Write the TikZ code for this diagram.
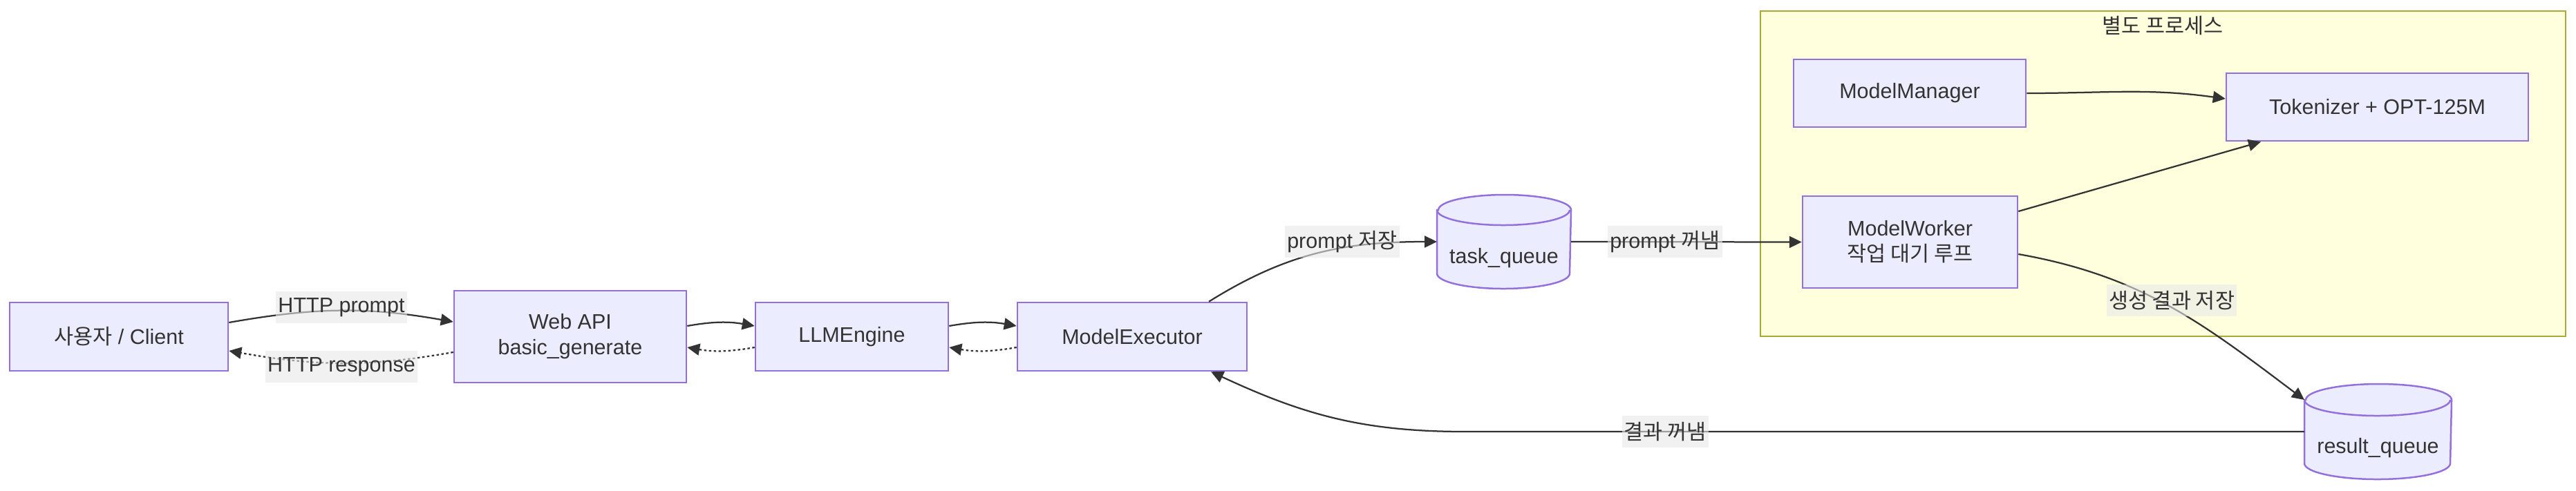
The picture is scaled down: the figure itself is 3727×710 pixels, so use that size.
\documentclass[tikz,border=0pt]{standalone}
\usepackage{fontspec}
\setmainfont{Liberation Sans}
\newfontfamily\krfont{Noto Sans CJK KR}
\usepackage{tikz}
\usetikzlibrary{arrows.meta,backgrounds}
\definecolor{nodefill}{HTML}{ECECFF}
\definecolor{nodeline}{HTML}{9370DB}
\definecolor{clusterfill}{HTML}{FFFFDE}
\definecolor{clusterline}{HTML}{AAAA33}
\definecolor{edgeline}{HTML}{333333}
\definecolor{labelbg}{HTML}{E8E8E8}

\begin{document}
\begin{tikzpicture}[x=0.2pt,y=-0.2pt,
    font=\fontsize{6.1pt}{7.4pt}\selectfont,text=edgeline,
    box/.style={draw=nodeline,fill=nodefill,line width=0.5pt,align=center,inner sep=0pt},
    queue/.style={inner sep=0pt,text height=9.4pt,text depth=1.4pt},
    cyl/.style={draw=nodeline,fill=nodefill,line width=0.5pt},
    cluster/.style={draw=clusterline,fill=clusterfill,line width=0.5pt,inner sep=0pt},
    flow/.style={draw=edgeline,line width=0.45pt,-{Triangle[length=3.6pt,width=3.4pt]}},
    back/.style={flow,dash pattern=on 0.7pt off 0.7pt},
    elabel/.style={fill=labelbg,fill opacity=0.6,text opacity=1,inner xsep=0.6pt,inner ysep=0pt,minimum height=9.2pt}]
    \useasboundingbox (0,0) rectangle (3727,710);
    \node[cluster,minimum width=233pt,minimum height=94.2pt] at (3129.5,251.5) (sp) {};
    \node at (3129,37) (spt) {\krfont 별도 프로세스};
    \node[box,minimum width=63.2pt,minimum height=19.8pt] at (172,487.5) (cl) {{\krfont 사용자} / Client};
    \node[box,minimum width=67.2pt,minimum height=26.6pt] at (825,487.5) (api) {Web API\\basic\_generate};
    \node[box,minimum width=55.8pt,minimum height=19.8pt] at (1232.5,487.5) (eng) {LLMEngine};
    \node[box,minimum width=66.4pt,minimum height=19.8pt] at (1638,487.5) (ex) {ModelExecutor};
    \node[queue,minimum width=38.4pt,minimum height=22.4pt] at (2176,361) (tq) {task\_queue};
    \node[box,minimum width=67.2pt,minimum height=19.6pt] at (2763,135) (mm) {ModelManager};
    \node[box,minimum width=87.4pt,minimum height=19.6pt] at (3439.5,155) (tok) {Tokenizer + OPT-125M};
    \node[box,minimum width=62.2pt,minimum height=26.6pt] at (2763.5,350.5) (mw) {ModelWorker\\{\krfont 작업 대기 루프}};
    \node[queue,minimum width=42.2pt,minimum height=22.6pt] at (3440.5,636.5) (rq) {result\_queue};
    \begin{scope}[on background layer]
    \filldraw[cyl] (tq.north west) -- ([yshift=4.4pt]tq.south west) arc[start angle=180,end angle=360,x radius=19.2pt,y radius=4.4pt] -- (tq.north east) arc[start angle=0,end angle=180,x radius=19.2pt,y radius=4.4pt] -- cycle;
    \draw[cyl,fill=none] (tq.north west) arc[start angle=180,end angle=360,x radius=19.2pt,y radius=4.4pt];
    \filldraw[cyl] (rq.north west) -- ([yshift=4.6pt]rq.south west) arc[start angle=180,end angle=360,x radius=21.1pt,y radius=4.6pt] -- (rq.north east) arc[start angle=0,end angle=180,x radius=21.1pt,y radius=4.6pt] -- cycle;
    \draw[cyl,fill=none] (rq.north west) arc[start angle=180,end angle=360,x radius=21.1pt,y radius=4.6pt];
    \end{scope}
    \draw[flow] ([yshift=4.1pt]cl.east) to[out=10,in=170] ([yshift=4.3pt]api.west);
    \draw[back] ([yshift=-4.5pt]api.west) to[out=190,in=-10] ([yshift=-4.1pt]cl.east);
    \draw[flow] ([yshift=3.1pt]api.east) to[out=10,in=170] ([yshift=3.1pt]eng.west);
    \draw[back] ([yshift=-3.1pt]eng.west) to[out=190,in=-10] ([yshift=-3.1pt]api.east);
    \draw[flow] ([yshift=3.1pt]eng.east) to[out=10,in=170] ([yshift=3.1pt]ex.west);
    \draw[back] ([yshift=-3.1pt]ex.west) to[out=190,in=-10] ([yshift=-3.1pt]eng.east);
    \draw[flow] ([xshift=22.2pt]ex.north) to[out=32,in=180] ([yshift=2.2pt]tq.west);
    \draw[flow] ([yshift=2.2pt]tq.east) -- (mw.west);
    \draw[flow] (mm.east) to[out=0,in=172] ([yshift=2.4pt]tok.west);
    \draw[flow] ([yshift=8.9pt]mw.east) -- ([xshift=-33.7pt]tok.south);
    \draw[flow] ([yshift=-3.5pt]mw.east) to[out=-10,in=143] (rq.north west);
    \draw[flow] ([yshift=2.3pt]rq.west) -- ++(-1215,0) to[out=180,in=-25] ([xshift=22.8pt]ex.south);
    \node[elabel] at (494,445) (l1) {HTTP prompt};
    \node[elabel] at (494,531) (l2) {HTTP response};
    \node[elabel] at (1942,350) (l3) {prompt {\krfont 저장}};
    \node[elabel] at (2409,350) (l4) {prompt {\krfont 꺼냄}};
    \node[elabel] at (3142,435) (l5) {\krfont 생성 결과 저장};
    \node[elabel] at (2409,625) (l6) {\krfont 결과 꺼냄};
\end{tikzpicture}
\end{document}
